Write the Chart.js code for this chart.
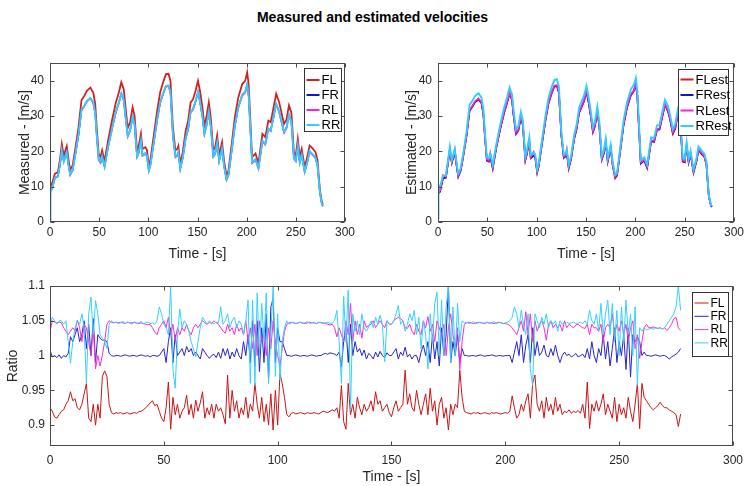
<!DOCTYPE html>
<html>
<head>
<meta charset="utf-8">
<script src="https://cdn.jsdelivr.net/npm/chart.js@4.4.0/dist/chart.umd.min.js"></script>
<style>
body { margin: 0; background: #fff; }
#page { position: relative; width: 745px; height: 486px; overflow: hidden; }
canvas { position: absolute; }
#title { position: absolute; left: 0; top: 9px; width: 745px; text-align: center;
         font: bold 14px "Liberation Sans", Arial, sans-serif; color: #000; }
</style>
</head>
<body>
<div id="page">
  <div id="title">Measured and estimated velocities</div>
  <canvas id="measChart" width="372" height="220" style="left:0;top:50px"></canvas>
  <canvas id="estChart" width="368" height="220" style="left:380px;top:50px"></canvas>
  <canvas id="ratioChart" width="750" height="216" style="left:0;top:270px"></canvas>
</div>
<script>
// Tick labels
const timeTicks = [0, 50, 100, 150, 200, 250, 300];
const velTicks = [0, 10, 20, 30, 40];
const ratioTicks = [0.9, 0.95, 1, 1.05, 1.1];

// Velocity sample times [s]
const velTime = [0, 0.5, 2, 5, 8, 10, 12, 14, 17, 19,
  20.5, 23, 25.5, 29, 32, 35, 37.5, 41, 44, 46,
  47.5, 49.5, 51.5, 53, 55.5, 59, 63, 67, 70, 72.5,
  75, 76.5, 79, 81.5, 84, 86, 88.5, 90, 92.5, 94,
  97, 98.5, 100.5, 102, 105.5, 109, 112, 115.5, 118, 120.5,
  122.5, 125, 127.5, 129.5, 130.5, 132.5, 135, 138, 140.5, 143,
  145.5, 148, 150.5, 152.5, 155, 157, 159, 161.5, 163.5, 166,
  168, 170, 172, 175, 177, 179.5, 181.5, 185, 188, 191.5,
  195.5, 198.5, 200.5, 202, 205.5, 209, 212, 216, 219, 222,
  224.5, 230, 233, 235, 238, 240.5, 243, 245.5, 248, 250,
  252, 254, 256, 259, 262, 264, 267, 270, 272, 274.5,
  276.5, 277.5];

// Measured velocities [m/s]
const measFL = [10, 10.2, 10.8, 13.7, 14.1, 17.4, 22.1, 18.8, 21.5, 17.4,
  14.8, 16, 20.3, 26.8, 34.5, 35.8, 37.2, 38.1, 36.7, 33.4,
  26.8, 19.3, 18.5, 20.3, 17.2, 23, 28.7, 33.9, 36.7, 39.6,
  37.6, 33.4, 26.6, 28.3, 32.5, 30.1, 20.3, 21.2, 25, 20.7,
  21.2, 20.5, 16, 17.4, 24.5, 31.5, 36.7, 40, 41.9, 42,
  40, 26.8, 20.3, 20.7, 21.5, 16.5, 19.8, 25.9, 28.7, 33.9,
  34.8, 37.2, 40, 37.2, 32.5, 27.3, 29.6, 33.9, 29.6, 20.3,
  21.2, 24.5, 18.9, 22.6, 17.4, 13.2, 14.6, 22.6, 29.7, 35.3,
  39.1, 40, 42.4, 39, 18.4, 19.4, 16.6, 25, 24, 28.7,
  28.3, 36.3, 34, 31.5, 27.8, 29, 33, 30.9, 19.8, 18.9,
  23.5, 18.4, 20.7, 15.5, 18.9, 21.7, 20.9, 19.8, 17.5, 9,
  5.6, 5];
const measFR = [8.5, 9, 9.4, 12.6, 13, 16, 20.3, 17.3, 19.8, 16,
  13.6, 14.7, 18.7, 24.7, 31.7, 32.9, 34.2, 35.1, 33.8, 30.7,
  24.7, 17.8, 17, 18.7, 15.8, 21.2, 26.4, 31.2, 33.8, 36.4,
  34.6, 30.7, 24.5, 26, 29.9, 27.7, 18.7, 19.5, 23, 19,
  19.5, 18.9, 14.7, 16, 22.5, 29, 33.8, 36.8, 38.5, 38.6,
  36.8, 24.7, 18.7, 19, 19.8, 15.2, 18.2, 23.8, 26.4, 31.2,
  32, 34.2, 36.8, 34.2, 29.9, 25.1, 27.2, 31.2, 27.2, 18.7,
  19.5, 22.5, 17.4, 20.8, 16, 12.1, 13.4, 20.8, 27.3, 32.5,
  36, 36.8, 39, 35.9, 16.9, 17.8, 15.3, 23, 22.1, 26.4,
  26, 33.4, 31.3, 29, 25.6, 26.7, 30.4, 28.4, 18.2, 17.4,
  21.6, 16.9, 19, 14.3, 17.4, 20, 19.2, 18.2, 16.1, 8.3,
  5.2, 4.6];
const measRL = [8.8, 9.1, 9.3, 12.4, 12.8, 15.9, 20.1, 17, 19.6, 15.7,
  13.2, 14.5, 18.6, 24.6, 31.5, 32.8, 34.1, 35, 33.7, 30.5,
  24.4, 17.4, 16.7, 18.5, 15.5, 21, 26.2, 31, 33.6, 36.2,
  34.4, 30.4, 24.1, 25.8, 29.7, 27.4, 18.3, 19.2, 22.8, 18.7,
  19.2, 18.6, 14.4, 15.8, 22.3, 28.8, 33.6, 36.6, 38.3, 38.5,
  36.6, 24.4, 18.3, 18.7, 19.6, 14.9, 18, 23.6, 26.2, 31,
  31.8, 34, 36.6, 34, 29.7, 24.8, 27, 31, 26.9, 18.4,
  19.2, 22.3, 17.1, 20.6, 15.7, 11.8, 13.1, 20.6, 27.1, 32.3,
  35.8, 36.6, 38.8, 35.7, 16.6, 17.5, 15, 22.7, 21.8, 26.2,
  25.7, 33.2, 31.1, 28.7, 25.2, 26.4, 30.2, 28.1, 17.9, 17.1,
  21.4, 16.6, 18.8, 14, 17.1, 19.8, 19, 18, 15.9, 8,
  4.9, 4.4];
const measRR = [0, 8.9, 9.3, 12.6, 13, 16.1, 20.3, 17.2, 19.8, 15.9,
  13.5, 14.7, 18.7, 24.8, 31.8, 33, 34.3, 35.1, 33.9, 30.8,
  24.7, 17.7, 17, 18.7, 15.7, 21.2, 26.4, 31.3, 33.9, 36.5,
  34.7, 30.8, 24.5, 26, 30, 27.7, 18.6, 19.5, 23.1, 18.9,
  19.5, 18.9, 14.6, 16, 22.5, 29.1, 33.9, 36.9, 38.6, 38.7,
  36.9, 24.7, 18.6, 19, 19.8, 15.1, 18.2, 23.8, 26.5, 31.3,
  32.1, 34.3, 36.9, 34.3, 30, 25.1, 27.2, 31.3, 27.2, 18.6,
  19.5, 22.5, 17.3, 20.8, 15.9, 12.1, 13.4, 20.8, 27.4, 32.6,
  36.1, 36.9, 39.1, 36, 16.9, 17.8, 15.3, 23, 22.1, 26.5,
  26, 33.5, 31.4, 29, 25.6, 26.7, 30.5, 28.4, 18.1, 17.4,
  21.6, 16.9, 19, 14.3, 17.4, 20.1, 19.2, 18.2, 16.1, 8.3,
  5.1, 4.5];

// Estimated velocities [m/s]
const estFL = [8.1, 8.3, 8.5, 12.3, 12.5, 16.4, 20.4, 16.7, 19.7, 15.5,
  12.7, 14.5, 18.4, 24.5, 31.5, 32.7, 33.9, 34.7, 33.7, 30.4,
  24.4, 17.3, 17.1, 18.4, 15, 20.9, 26.2, 30.9, 33.7, 36.4,
  34.5, 30.4, 24.8, 25.9, 29.7, 27.4, 17.4, 19.1, 22.9, 18,
  18.7, 18.3, 13.9, 15.7, 22.3, 28.9, 33.6, 36.7, 38.4, 38.5,
  36.6, 24.5, 18.1, 18.6, 19.5, 15.1, 18, 23.5, 26.3, 30.9,
  32.5, 34.2, 36.9, 34.1, 29.7, 25.4, 27.1, 31.1, 27.1, 17.6,
  19.3, 22.5, 17, 20.9, 16, 12.3, 13.1, 20.7, 27.3, 32.3,
  35.9, 37.1, 38.9, 35.7, 16.5, 17.4, 15.2, 22.9, 22.6, 26.1,
  26.2, 33.2, 31.4, 29.3, 24.9, 26.5, 30.3, 28.3, 17.1, 16.9,
  21.5, 16.8, 19.2, 13.9, 17.2, 20.4, 19.3, 18.4, 16.3, 7.1,
  4.7, 4.2];
const estFR = [8.2, 8.4, 8.6, 12.4, 12.6, 16.5, 20.5, 16.8, 19.8, 15.8,
  13, 14.6, 18.5, 24.6, 31.6, 32.8, 34, 34.8, 33.8, 30.5,
  24.5, 17.5, 17.2, 18.5, 15.4, 21, 26.3, 31, 33.8, 36.5,
  34.6, 30.5, 25.2, 26, 29.8, 27.5, 17.6, 19.2, 23, 18.2,
  18.8, 18.4, 14.2, 15.8, 22.4, 29, 33.7, 36.8, 38.5, 38.6,
  36.7, 24.6, 18.3, 18.7, 19.6, 15.4, 18.1, 23.6, 26.4, 31,
  32.6, 34.3, 37, 34.2, 29.8, 25.6, 27.2, 31.2, 27.2, 17.8,
  19.4, 22.6, 17.2, 21, 16.3, 12.8, 13.3, 20.8, 27.4, 32.4,
  36, 37.2, 39, 35.8, 16.7, 17.5, 15.5, 23, 22.8, 26.2,
  26.3, 33.3, 31.5, 29.4, 25.2, 26.6, 30.4, 28.4, 17.3, 17,
  21.6, 17, 19.3, 14.2, 17.3, 20.5, 19.4, 18.5, 16.4, 7.2,
  4.8, 4.3];
const estRL = [8.4, 8.6, 8.8, 13.3, 12.8, 16.7, 20.7, 17, 20.5, 16,
  13.2, 14.8, 18.7, 24.8, 31.8, 33, 34.2, 35, 34, 30.7,
  24.7, 17.7, 17.4, 19.6, 15.6, 21.2, 26.5, 31.2, 34, 36.7,
  34.8, 30.7, 25.4, 26.2, 30, 27.7, 17.8, 19.4, 23.2, 18.4,
  19.9, 18.6, 14.4, 16, 22.6, 29.2, 33.9, 37, 38.7, 38.8,
  36.9, 24.8, 18.5, 18.9, 20.5, 15.6, 18.3, 23.8, 26.6, 31.2,
  32.8, 34.5, 37.2, 34.4, 30, 25.8, 27.4, 31.4, 27.4, 18,
  19.6, 22.8, 17.4, 21.2, 16.5, 12.9, 13.5, 21, 27.6, 32.6,
  36.2, 37.4, 39.2, 36, 16.9, 17.7, 15.7, 23.2, 23, 26.4,
  26.5, 33.5, 31.7, 29.6, 25.4, 26.8, 30.6, 28.6, 17.5, 17.2,
  21.8, 17.2, 19.5, 14.4, 17.5, 20.7, 19.6, 18.7, 16.6, 7.4,
  5, 4.5];
const estRR = [1, 10.5, 9.8, 13, 13.2, 17.2, 21.3, 17.5, 20.7, 16.5,
  13.6, 15.3, 19.3, 25.7, 33.2, 34.4, 35.7, 36.5, 35.3, 31.9,
  25.6, 18.3, 18, 19.4, 16.1, 21.9, 27.5, 32.4, 35.3, 38.1,
  36.2, 31.9, 26.3, 27.2, 31.2, 28.7, 18.4, 20.1, 24, 19,
  19.7, 19.2, 14.8, 16.5, 23.4, 30.3, 35.2, 38.5, 40.3, 40.5,
  38.4, 25.7, 19.1, 19.5, 20.5, 16.1, 18.9, 24.7, 27.6, 32.4,
  34.1, 35.8, 38.6, 35.7, 31.1, 26.8, 28.4, 32.6, 28.4, 18.6,
  20.3, 23.6, 18, 21.9, 17, 13.3, 13.9, 21.7, 28.6, 33.9,
  37.6, 38.9, 40.8, 37.4, 17.5, 18.3, 16.2, 24, 23.8, 27.4,
  27.5, 34.6, 32.9, 30.7, 26.3, 27.8, 31.8, 29.7, 18.1, 17.8,
  22.6, 17.8, 20.2, 14.8, 18.1, 21.4, 20.3, 19.3, 17.1, 7.5,
  5, 4.5];

// Ratios, one value per second from t = 0
const ratioFL = [0.925, 0.92, 0.912, 0.91, 0.915, 0.92, 0.922, 0.93, 0.935, 0.948,
  0.935, 0.938, 0.925, 0.922, 0.93, 0.945, 0.96, 0.91, 0.905, 0.93,
  0.9, 0.93, 0.91, 0.97, 0.978, 0.97, 0.93, 0.918, 0.916, 0.918,
  0.917, 0.918, 0.916, 0.917, 0.918, 0.916, 0.917, 0.918, 0.917, 0.919,
  0.92, 0.922, 0.925, 0.928, 0.932, 0.935, 0.928, 0.93, 0.92, 0.91,
  0.905, 0.925, 0.962, 0.894, 0.94, 0.915, 0.93, 0.91, 0.92, 0.925,
  0.943, 0.915, 0.93, 0.91, 0.936, 0.92, 0.932, 0.948, 0.91, 0.925,
  0.915, 0.93, 0.91, 0.93, 0.92, 0.925, 0.915, 0.902, 0.972, 0.91,
  0.95, 0.92, 0.935, 0.91, 0.925, 0.915, 0.94, 0.91, 0.93, 0.92,
  0.96, 0.93, 0.91, 0.94, 0.905, 0.93, 0.9, 0.945, 0.893, 0.95,
  0.9, 0.974, 0.96, 0.94, 0.915, 0.912, 0.917, 0.918, 0.916, 0.917,
  0.918, 0.917, 0.916, 0.918, 0.917, 0.917, 0.918, 0.917, 0.916, 0.918,
  0.92, 0.919, 0.918, 0.92, 0.922, 0.92, 0.925, 0.91, 0.957, 0.905,
  0.894, 0.96, 0.915, 0.93, 0.91, 0.94, 0.925, 0.915, 0.93, 0.92,
  0.925, 0.935, 0.92, 0.948, 0.93, 0.935, 0.92, 0.925, 0.93, 0.918,
  0.912, 0.925, 0.935, 0.92, 0.925, 0.93, 0.979, 0.93, 0.945, 0.925,
  0.92, 0.95, 0.93, 0.915, 0.93, 0.945, 0.915, 0.953, 0.92, 0.935,
  0.9, 0.93, 0.94, 0.91, 0.925, 0.893, 0.93, 0.915, 0.93, 0.925,
  0.979, 0.94, 0.92, 0.918, 0.917, 0.916, 0.918, 0.917, 0.918, 0.916,
  0.917, 0.918, 0.917, 0.916, 0.918, 0.917, 0.918, 0.917, 0.916, 0.917,
  0.918, 0.917, 0.92, 0.942, 0.925, 0.91, 0.915, 0.93, 0.92, 0.935,
  0.945, 0.91, 0.96, 0.972, 0.93, 0.92, 0.935, 0.91, 0.94, 0.92,
  0.93, 0.915, 0.94, 0.92, 0.93, 0.915, 0.92, 0.918, 0.922, 0.917,
  0.92, 0.918, 0.921, 0.917, 0.93, 0.91, 0.962, 0.895, 0.93, 0.92,
  0.935, 0.92, 0.93, 0.945, 0.915, 0.93, 0.92, 0.91, 0.94, 0.905,
  0.93, 0.915, 0.925, 0.91, 0.94, 0.92, 0.905, 0.93, 0.96, 0.895,
  0.96, 0.94, 0.935, 0.93, 0.925, 0.922, 0.925, 0.928, 0.933, 0.928,
  0.925, 0.925, 0.922, 0.92, 0.918, 0.915, 0.898, 0.916];
const ratioFR = [1.008, 0.998, 1, 0.997, 1.001, 0.996, 1, 0.998, 1.003, 1.027,
  1.02, 1.03, 1.04, 1.02, 1.03, 1.05, 1.01, 1.045, 1, 1.053,
  0.99, 1.03, 1.025, 1.022, 1.022, 1.02, 1.003, 1, 0.999, 1,
  1, 0.999, 1, 1.001, 1, 0.999, 1, 1, 0.999, 1,
  1.001, 1, 0.999, 1, 0.998, 1, 1, 0.999, 1, 1.005,
  1.01, 0.99, 1.02, 1.04, 0.99, 1.03, 1, 1.005, 1.01, 1,
  1.013, 1.005, 1.01, 1, 1.005, 1, 0.995, 1.01, 1.005, 1,
  0.996, 1, 1.002, 0.997, 1.005, 0.996, 1.01, 1, 1.01, 0.995,
  1.005, 0.998, 1.01, 1, 0.995, 1.02, 1, 1.03, 0.99, 1.05,
  0.985, 1.05, 0.977, 1.04, 0.99, 1.06, 0.965, 1.07, 1.082, 0.99,
  1.04, 1.02, 1.02, 1.01, 1, 1, 0.999, 1, 1.001, 1,
  0.999, 1, 1, 0.999, 1, 1.001, 1, 0.999, 1, 1,
  1.002, 1.003, 1.002, 1.004, 1.003, 1.002, 1, 1.005, 0.984, 1.02,
  1.04, 0.99, 1.045, 1, 1.02, 1.005, 1.01, 1, 1.008, 0.995,
  1.003, 1, 0.995, 1.005, 0.998, 1.006, 1, 0.997, 1.004, 1,
  1, 1.005, 1.01, 0.995, 1.005, 1, 1.012, 0.998, 1.002, 0.995,
  1, 1, 0.99, 1.005, 1.015, 1, 1.02, 0.99, 1.03, 0.995,
  1.02, 0.985, 1.04, 1, 1.03, 1.1, 0.99, 1.02, 1, 1.03,
  0.99, 1.01, 1, 1, 0.999, 1, 1, 0.999, 1, 1.001,
  1, 0.999, 1, 1, 1.001, 1, 0.999, 1, 1, 0.999,
  1, 1, 1, 0.99, 1.005, 1.02, 1, 1.03, 0.99, 1.015,
  1.03, 0.99, 1.04, 1, 1.02, 1, 1.005, 1.015, 1, 0.998,
  1.01, 1, 1.015, 1, 0.99, 1, 1.005, 1, 1.002, 0.998,
  1, 1.003, 0.998, 1, 1.002, 0.997, 1.01, 0.995, 1.02, 1,
  0.99, 1.01, 1, 1.03, 0.995, 1.02, 0.985, 1.01, 1.04, 0.99,
  1.02, 1, 1.03, 0.98, 1.04, 0.969, 1.03, 1.02, 1.027, 1.02,
  1, 1.005, 1, 1, 0.999, 1, 1.001, 1, 0.999, 1,
  1, 0.998, 0.995, 0.998, 1, 1.002, 1.005, 1.01];
const ratioRL = [1.034, 1.05, 1.048, 1.047, 1.048, 1.047, 1.04, 1.035, 1.03, 1.035,
  1.04, 1.035, 1.051, 1.04, 1.02, 1.045, 1.04, 1.02, 1, 1.04,
  0.981, 1, 0.985, 1, 1.02, 1.045, 1.05, 1.048, 1.047, 1.048,
  1.047, 1.048, 1.047, 1.046, 1.048, 1.047, 1.047, 1.048, 1.047, 1.046,
  1.047, 1.046, 1.045, 1.044, 1.045, 1.04, 1.034, 1.03, 1.04, 1.045,
  1.05, 1.04, 1.055, 1.03, 1.045, 1.022, 1.04, 1.03, 1.04, 1.035,
  1.045, 1.035, 1.03, 1.04, 1.045, 1.04, 1.045, 1.05, 1.047, 1.045,
  1.048, 1.046, 1.05, 1.047, 1.045, 1.04, 1.035, 1.032, 1.045, 1.035,
  1.04, 1.03, 1.045, 1.035, 1.04, 1.03, 1.05, 1.02, 1.04, 1.01,
  1.045, 1, 1.05, 1.02, 1.03, 1, 1.04, 1.01, 1.05, 1.02,
  1, 0.984, 1.01, 1.035, 1.045, 1.047, 1.048, 1.047, 1.046, 1.047,
  1.048, 1.047, 1.046, 1.047, 1.048, 1.047, 1.047, 1.046, 1.048, 1.047,
  1.047, 1.046, 1.045, 1.044, 1.045, 1.04, 1.027, 1.04, 1.03, 1.02,
  1.05, 1.03, 1.075, 1.02, 1.05, 1.03, 1.045, 1.025, 1.05, 1.04,
  1.044, 1.045, 1.05, 1.04, 1.045, 1.05, 1.045, 1.04, 1.05, 1.045,
  1.045, 1.05, 1.053, 1.055, 1.053, 1.05, 1.04, 1.039, 1.045, 1.035,
  1.03, 1.045, 1.035, 1.03, 1.05, 1.04, 1.056, 1.035, 1.045, 1.02,
  1.05, 1.04, 1.03, 1.045, 1, 1.04, 1.06, 1.03, 1.01, 1.04,
  0.98, 1.02, 1.045, 1.047, 1.048, 1.047, 1.046, 1.047, 1.048, 1.047,
  1.047, 1.046, 1.048, 1.047, 1.047, 1.046, 1.047, 1.048, 1.047, 1.046,
  1.046, 1.045, 1.043, 1.04, 1.035, 1.03, 1.04, 1.05, 1.035, 1.063,
  1.03, 1.06, 1.02, 1.05, 1.035, 1.045, 1.05, 1.04, 1.022, 1.045,
  1.05, 1.04, 1.045, 1.04, 1.045, 1.035, 1.05, 1.04, 1.045, 1.042,
  1.04, 1.044, 1.045, 1.042, 1.04, 1.039, 1.045, 1.03, 1.045, 1.04,
  1.04, 1.035, 1.045, 1.02, 1.04, 1.045, 1.04, 1.06, 1.03, 1.045,
  1.035, 1.05, 1.03, 1.045, 1.02, 1.04, 1.05, 1.01, 1.03, 0.996,
  1.02, 1.04, 1.045, 1.04, 1.04, 1.041, 1.04, 1.039, 1.04, 1.038,
  1.04, 1.036, 1.04, 1.045, 1.053, 1.055, 1.04, 1.036];
const ratioRR = [1.045, 1.055, 1.05, 1.045, 1.05, 1.05, 1.045, 1.05, 1.02, 0.989,
  1.02, 1.04, 1.05, 1.045, 1.06, 1.04, 0.96, 1.06, 1.084, 1.03,
  1.079, 1.06, 1.03, 1.025, 1.02, 1.01, 1.045, 1.05, 1.047, 1.048,
  1.046, 1.047, 1.049, 1.046, 1.048, 1.047, 1.045, 1.048, 1.046, 1.047,
  1.049, 1.046, 1.047, 1.048, 1.046, 1.047, 1.045, 1.05, 1.07, 1.06,
  1.045, 1.04, 1.03, 1.1, 0.98, 0.953, 1.03, 1.067, 1.04, 1.05,
  1.045, 1.035, 1.02, 1.01, 0.998, 1.02, 1.04, 1.055, 1.05, 1.045,
  1.05, 1.047, 1.046, 1.048, 1.047, 1.07, 1.045, 1.05, 1.06, 1.04,
  1.05, 1.055, 1.04, 1.05, 1.045, 1.03, 1.05, 1.08, 0.96, 1.08,
  0.957, 1.09, 1, 1.075, 1.02, 1.09, 0.96, 1.03, 1.1, 0.97,
  1.06, 0.965, 1.02, 1.04, 1.05, 1.045, 1.047, 1.048, 1.046, 1.047,
  1.048, 1.046, 1.047, 1.049, 1.046, 1.047, 1.048, 1.046, 1.047, 1.048,
  1.046, 1.047, 1.048, 1.046, 1.047, 1.05, 1.065, 1.02, 0.96, 1.085,
  1.02, 1.094, 0.921, 1.06, 1.035, 1.05, 1.03, 1.06, 1.04, 1.035,
  1.041, 1.05, 1.04, 1.055, 1.045, 1.058, 1.045, 0.991, 1.05, 1.045,
  1.045, 1.05, 1.06, 1.072, 1.045, 1.05, 1.035, 1.045, 1.06, 1.05,
  1.065, 1.03, 1.055, 1.01, 1.05, 1.03, 0.981, 1.06, 1.02, 1.075,
  1.091, 1, 1.08, 1, 1.07, 1.1, 0.99, 1.07, 1, 1.075,
  1.02, 1.05, 1.047, 1.048, 1.046, 1.047, 1.049, 1.046, 1.047, 1.048,
  1.046, 1.047, 1.048, 1.046, 1.047, 1.049, 1.046, 1.047, 1.048, 1.046,
  1.047, 1.048, 1.05, 1.055, 1.07, 1.06, 1.04, 1.065, 1.045, 1.03,
  1.06, 0.98, 0.957, 1.06, 1.05, 1.04, 1.055, 1.045, 1.06, 1.04,
  1.05, 1.045, 1.05, 1.035, 1.05, 1.045, 1.047, 1.048, 1.046, 1.047,
  1.048, 1.046, 1.047, 1.048, 1.046, 1.05, 1.045, 1.065, 1.05, 1.045,
  1.06, 1.035, 1.075, 1.03, 1.06, 1.08, 1.03, 1.075, 1.02, 1.065,
  1, 1.07, 1.02, 1.08, 1.03, 1.06, 1, 1.07, 0.957, 1.04,
  1.035, 1.04, 1.037, 1.038, 1.039, 1.038, 1.04, 1.039, 1.04, 1.038,
  1.04, 1.045, 1.05, 1.055, 1.06, 1.07, 1.1, 1.065];
// one sample per second
const ratioTime = ratioFL.map((v, i) => i);

const FONT = '"Liberation Sans", Arial, sans-serif';
Chart.defaults.font.family = FONT;
Chart.defaults.color = '#262626';
Chart.defaults.animation = false;

// box around the plot with inward ticks on all four sides
const frame = {
  id: 'frame',
  afterDatasetsDraw(chart) {
    const {ctx, chartArea: a, scales} = chart;
    const L = Math.round(a.left) + 0.5, R = Math.round(a.right) - 0.5;
    const T = Math.round(a.top) + 0.5, B = Math.round(a.bottom) - 0.5;
    ctx.save();
    ctx.strokeStyle = '#4a4a4a';
    ctx.lineWidth = 1;
    ctx.beginPath();
    scales.x.ticks.forEach(t => {
      const p = Math.round(scales.x.getPixelForValue(t.value)) + 0.5;
      ctx.moveTo(p, B); ctx.lineTo(p, B - 4);
      ctx.moveTo(p, T); ctx.lineTo(p, T + 4);
    });
    scales.y.ticks.forEach(t => {
      const p = Math.round(scales.y.getPixelForValue(t.value)) + 0.5;
      ctx.moveTo(L, p); ctx.lineTo(L + 4, p);
      ctx.moveTo(R, p); ctx.lineTo(R - 4, p);
    });
    ctx.stroke();
    ctx.strokeRect(L, T, R - L, B - T);
    ctx.restore();
  }
};

// legend in a box at the top right of the plot
const boxLegend = {
  id: 'boxLegend',
  afterDraw(chart, args, o) {
    const {ctx, chartArea: a} = chart;
    const x0 = Math.round(a.right - o.right - o.width) + 0.5;
    const y0 = Math.round(a.top + o.top) + 0.5;
    ctx.save();
    ctx.fillStyle = '#fff';
    ctx.fillRect(x0, y0, o.width, o.height);
    ctx.strokeStyle = '#333';
    ctx.lineWidth = 1;
    ctx.strokeRect(x0, y0, o.width, o.height);
    ctx.font = o.fontSize + 'px ' + FONT;
    ctx.textBaseline = 'middle';
    chart.data.datasets.forEach((ds, i) => {
      const yy = y0 + o.first + i * o.gap;
      ctx.strokeStyle = ds.borderColor;
      ctx.lineWidth = o.lineWidth;
      ctx.beginPath();
      ctx.moveTo(x0 + 2, yy);
      ctx.lineTo(x0 + 2 + o.sample, yy);
      ctx.stroke();
      ctx.fillStyle = '#000';
      ctx.fillText(ds.label, x0 + 4 + o.sample, yy + 0.5);
    });
    ctx.restore();
  }
};

// later series are drawn on top, as in the original plot
function series(label, t, v, color, width, idx) {
  return {
    label: label,
    data: t.map((x, i) => ({x: x, y: v[i]})),
    borderColor: color,
    backgroundColor: color,
    borderWidth: width,
    pointRadius: 0,
    tension: 0,
    fill: false,
    order: 10 - idx
  };
}

function scales(s) {
  return {
    x: {
      type: 'linear', min: 0, max: 300, bounds: 'data',
      afterBuildTicks: sc => { sc.ticks = timeTicks.map(v => ({value: v})); },
      afterFit: sc => { sc.height = s.xH; },
      grid: {display: false, drawTicks: false},
      border: {display: false},
      ticks: {padding: s.xPad, font: {size: s.tick}, color: '#262626', maxRotation: 0, autoSkip: false},
      title: {display: true, text: 'Time - [s]', font: {size: s.titleSize}, color: '#262626',
              padding: {top: 0, bottom: s.xTitlePad}}
    },
    y: {
      type: 'linear', min: s.yMin, max: s.yMax, bounds: 'data',
      afterBuildTicks: sc => { sc.ticks = s.yTicks.map(v => ({value: v})); },
      afterFit: sc => { sc.width = s.yW; },
      grid: {display: false, drawTicks: false},
      border: {display: false},
      ticks: {padding: s.yPad, font: {size: s.tick}, color: '#262626', autoSkip: false,
              callback: v => String(Number(v.toFixed(3)))},
      title: {display: true, text: s.yTitle, font: {size: s.titleSize}, color: '#262626',
              padding: {top: s.yTitlePad, bottom: 0}}
    }
  };
}

// Measured velocities
new Chart(document.getElementById('measChart'), {
  type: 'line',
  data: {
    datasets: [
      series('FL', velTime, measFL, '#d42020', 1.8, 0),
      series('FR', velTime, measFR, '#1414c0', 1.4, 1),
      series('RL', velTime, measRL, '#ff22cc', 1.4, 2),
      series('RR', velTime, measRR, '#33ccff', 1.9, 3)
    ]
  },
  options: {
    responsive: false,
    layout: {padding: {top: 13, right: 27, left: 0, bottom: 0}},
    scales: scales({yMin: 0, yMax: 45, yTicks: velTicks, yTitle: 'Measured - [m/s]', yW: 50, xH: 48,
                    xPad: 3, yPad: 6, tick: 12, titleSize: 14, xTitlePad: 7, yTitlePad: 17}),
    plugins: {
      legend: {display: false},
      tooltip: {enabled: false},
      boxLegend: {right: 4, top: 5, width: 37, height: 63, first: 11.5, gap: 15, sample: 13, fontSize: 13, lineWidth: 2}
    }
  },
  plugins: [frame, boxLegend]
});

// Estimated velocities
new Chart(document.getElementById('estChart'), {
  type: 'line',
  data: {
    datasets: [
      series('FLest', velTime, estFL, '#d42020', 1.6, 0),
      series('FRest', velTime, estFR, '#1414c0', 1.6, 1),
      series('RLest', velTime, estRL, '#ff22cc', 1.6, 2),
      series('RRest', velTime, estRR, '#33ccff', 1.9, 3)
    ]
  },
  options: {
    responsive: false,
    layout: {padding: {top: 13, right: 14, left: 0, bottom: 0}},
    scales: scales({yMin: 0, yMax: 45, yTicks: velTicks, yTitle: 'Estimated - [m/s]', yW: 58, xH: 48,
                    xPad: 3, yPad: 6, tick: 12, titleSize: 14, xTitlePad: 7, yTitlePad: 24}),
    plugins: {
      legend: {display: false},
      tooltip: {enabled: false},
      boxLegend: {right: 6, top: 6, width: 50, height: 66, first: 10, gap: 15.5, sample: 13, fontSize: 13, lineWidth: 2}
    }
  },
  plugins: [frame, boxLegend]
});

// Ratios
new Chart(document.getElementById('ratioChart'), {
  type: 'line',
  data: {
    datasets: [
      series('FL', ratioTime, ratioFL, '#cc1414', 1, 0),
      series('FR', ratioTime, ratioFR, '#2424cc', 1, 1),
      series('RL', ratioTime, ratioRL, '#ff2ad0', 1, 2),
      series('RR', ratioTime, ratioRR, '#35d0ff', 1, 3)
    ]
  },
  options: {
    responsive: false,
    layout: {padding: {top: 16, right: 17, left: 0, bottom: 0}},
    scales: scales({yMin: 0.87, yMax: 1.1, yTicks: ratioTicks, yTitle: 'Ratio', yW: 50, xH: 40,
                    xPad: 7, yPad: 5, tick: 12, titleSize: 14, xTitlePad: 0, yTitlePad: 5}),
    plugins: {
      legend: {display: false},
      tooltip: {enabled: false},
      boxLegend: {right: 5, top: 6, width: 36, height: 64, first: 10.5, gap: 13.3, sample: 14, fontSize: 12, lineWidth: 1}
    }
  },
  plugins: [frame, boxLegend]
});
</script>
</body>
</html>
